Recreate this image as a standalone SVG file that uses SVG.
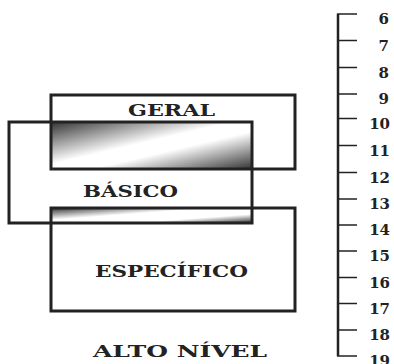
<svg xmlns="http://www.w3.org/2000/svg" width="394" height="364" viewBox="0 0 394 364">
  <style>
    .box { fill: none; stroke: #222; stroke-width: 3; }
    .lbl { font-family: "DejaVu Serif", "Liberation Serif", serif; font-weight: bold; font-size: 17px; fill: #222; }
    .num { font-family: "DejaVu Serif", "Liberation Serif", serif; font-weight: bold; font-size: 15px; fill: #222; text-anchor: end; }
    .tick { stroke: #222; stroke-width: 1.5; }
  </style>
  <defs>
    <linearGradient id="g1" x1="0" y1="0" x2="1" y2="1">
      <stop offset="0" stop-color="#333"/>
      <stop offset="0.45" stop-color="#fff"/>
      <stop offset="0.6" stop-color="#fff"/>
      <stop offset="1" stop-color="#333"/>
    </linearGradient>
    <linearGradient id="g2" x1="0" y1="0" x2="1" y2="1">
      <stop offset="0" stop-color="#333"/>
      <stop offset="0.4" stop-color="#fff"/>
      <stop offset="0.7" stop-color="#fff"/>
      <stop offset="1" stop-color="#333"/>
    </linearGradient>
  </defs>

  <g id="overlaps">
    <rect x="51" y="122" width="201" height="47" fill="url(#g1)"/>
    <rect x="51" y="208" width="201" height="15" fill="url(#g2)"/>
  </g>

  <g id="geral">
    <rect class="box" x="51" y="95" width="244" height="74"/>
    <text class="lbl" x="128" y="116" textLength="87" lengthAdjust="spacingAndGlyphs">GERAL</text>
  </g>
  <g id="basico">
    <rect class="box" x="9" y="122" width="243" height="101"/>
    <text class="lbl" x="83" y="197" textLength="95" lengthAdjust="spacingAndGlyphs">BÁSICO</text>
  </g>
  <g id="especifico">
    <rect class="box" x="51" y="208" width="244" height="103"/>
    <text class="lbl" x="95" y="277" textLength="153" lengthAdjust="spacingAndGlyphs">ESPECÍFICO</text>
  </g>
  <g id="alto-nivel">
    <text class="lbl" x="93" y="357" textLength="174" lengthAdjust="spacingAndGlyphs">ALTO NÍVEL</text>
  </g>

  <g id="scale">
    <line x1="338" y1="14" x2="338" y2="356" stroke="#222" stroke-width="2.5"/>
    <line class="tick" x1="337" y1="14" x2="357" y2="14"/>
    <line class="tick" x1="337" y1="40.5" x2="357" y2="40.5"/>
    <line class="tick" x1="337" y1="67.5" x2="357" y2="67.5"/>
    <line class="tick" x1="337" y1="94" x2="357" y2="94"/>
    <line class="tick" x1="337" y1="118.5" x2="357" y2="118.5"/>
    <line class="tick" x1="337" y1="145.5" x2="357" y2="145.5"/>
    <line class="tick" x1="337" y1="172.5" x2="357" y2="172.5"/>
    <line class="tick" x1="337" y1="199" x2="357" y2="199"/>
    <line class="tick" x1="337" y1="225" x2="357" y2="225"/>
    <line class="tick" x1="337" y1="251" x2="357" y2="251"/>
    <line class="tick" x1="337" y1="277.5" x2="357" y2="277.5"/>
    <line class="tick" x1="337" y1="303.5" x2="357" y2="303.5"/>
    <line class="tick" x1="337" y1="330" x2="357" y2="330"/>
    <line class="tick" x1="337" y1="356" x2="357" y2="356"/>
    <text class="num" x="389" y="24">6</text>
    <text class="num" x="389" y="50.5">7</text>
    <text class="num" x="389" y="77.5">8</text>
    <text class="num" x="389" y="104">9</text>
    <text class="num" x="390" y="128.5">10</text>
    <text class="num" x="390" y="155.5">11</text>
    <text class="num" x="390" y="182.5">12</text>
    <text class="num" x="390" y="209">13</text>
    <text class="num" x="390" y="235">14</text>
    <text class="num" x="390" y="261">15</text>
    <text class="num" x="390" y="287.5">16</text>
    <text class="num" x="390" y="313.5">17</text>
    <text class="num" x="390" y="340">18</text>
    <text class="num" x="390" y="366">19</text>
  </g>
</svg>
